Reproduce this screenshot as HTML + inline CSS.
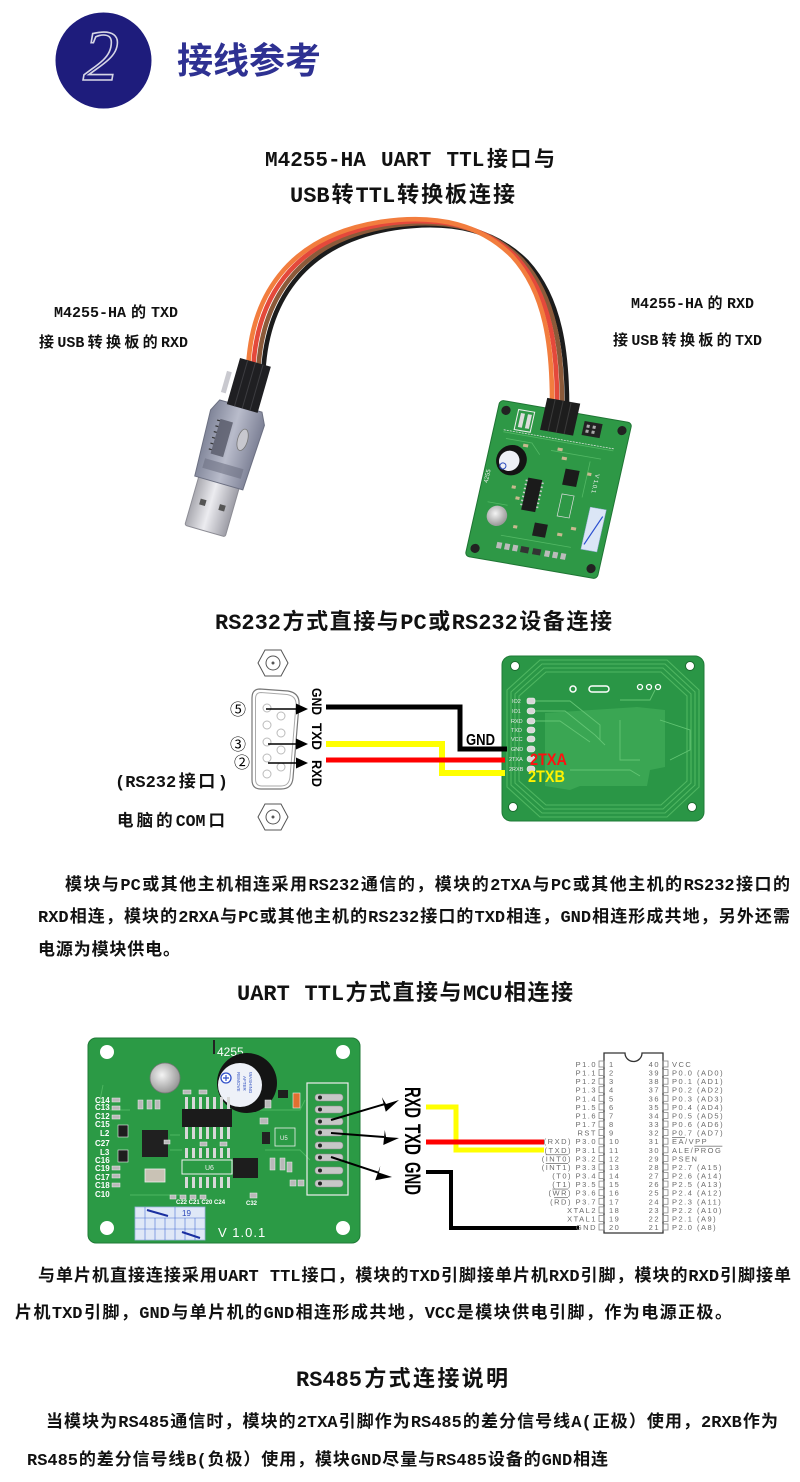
<!DOCTYPE html>
<html>
<head>
<meta charset="utf-8">
<style>
html,body{margin:0;padding:0;background:#fff}
body{width:800px;height:1482px;position:relative;overflow:hidden}
svg{position:absolute;left:0;top:0}
.t{position:absolute;font-family:"Liberation Mono","Noto Sans CJK SC",sans-serif;font-weight:bold;color:#111;text-align:justify;text-align-last:justify;text-justify:inter-character}
.p{font-size:17px;line-height:20px;height:20px}
.h{font-size:22px;line-height:26px;height:26px}
.s{font-size:15px;line-height:20px;height:20px}
.m{font-size:17px;line-height:22px;height:22px}
</style>
</head>
<body>
<svg width="800" height="1482" viewBox="0 0 800 1482" xmlns="http://www.w3.org/2000/svg">
<defs>
  <linearGradient id="metal" x1="0" x2="1" y1="0" y2="0">
    <stop offset="0" stop-color="#a9a9b0"/><stop offset="0.45" stop-color="#ececf0"/><stop offset="1" stop-color="#9d9da6"/>
  </linearGradient>
  <linearGradient id="hous" x1="0" x2="1" y1="0" y2="0">
    <stop offset="0" stop-color="#7f8498"/><stop offset="0.5" stop-color="#b9bccb"/><stop offset="1" stop-color="#7c8095"/>
  </linearGradient>
  <radialGradient id="led" cx="0.4" cy="0.4" r="0.6">
    <stop offset="0" stop-color="#f4f4f4"/><stop offset="1" stop-color="#9a9a9a"/>
  </radialGradient>
</defs>

<!-- ===== Header badge ===== -->
<circle cx="103.5" cy="60.5" r="48" fill="#1e1c7c"/>
<text x="101" y="80" font-family="Liberation Serif" font-style="italic" font-size="72" fill="#1e1c7c" stroke="#d6d6e6" stroke-width="1.6" text-anchor="middle">2</text>

<!-- ===== Section 1: board (tilted) ===== -->
<g transform="matrix(1,0.174,-0.224,1,500,400)">
  <rect x="0" y="0" width="132" height="156" rx="4" fill="#2e9846" stroke="#1f7534" stroke-width="1"/>
  <path d="M10 30 L120 30 M14 36 L40 36 L50 46 M60 40 L110 40 M100 44 L100 80 M30 130 L100 130 M10 100 L30 100" stroke="#53b865" stroke-width="0.8" fill="none"/>
  <circle cx="8" cy="9" r="4.5" fill="#222"/>
  <circle cx="124" cy="9" r="4.5" fill="#222"/>
  <circle cx="8" cy="147" r="4.5" fill="#222"/>
  <circle cx="124" cy="147" r="4.5" fill="#222"/>
  <rect x="20" y="6" width="16" height="20" fill="none" stroke="#eee" stroke-width="1"/>
  <rect x="23" y="9" width="4" height="14" fill="#ddd"/>
  <rect x="30" y="9" width="4" height="14" fill="#ddd"/>
  <rect x="86" y="6" width="18" height="14" fill="#222"/>
  <rect x="89" y="9" width="3" height="3" fill="#aaa"/><rect x="95" y="9" width="3" height="3" fill="#aaa"/>
  <rect x="89" y="14" width="3" height="3" fill="#aaa"/><rect x="95" y="14" width="3" height="3" fill="#aaa"/>
  <line x1="10" y1="28" x2="120" y2="28" stroke="#e8e8e8" stroke-width="0.7" stroke-dasharray="2 1"/>
  <circle cx="24" cy="56" r="15" fill="#141414"/>
  <circle cx="22" cy="57" r="10" fill="#eef0f6"/>
  <circle cx="17" cy="63" r="3" fill="none" stroke="#3050c0" stroke-width="1"/>
  <text x="0" y="0" transform="translate(6,82) rotate(-90)" font-family="Liberation Sans" font-size="6" fill="#eee">4255</text>
  <text x="0" y="0" transform="translate(108,55) rotate(90)" font-family="Liberation Sans" font-size="6" fill="#eee">V 1.0.1</text>
  <rect x="44" y="70" width="14" height="32" fill="#1b1b1b"/>
  <path d="M42 73 h2 M42 77 h2 M42 81 h2 M42 85 h2 M42 89 h2 M42 93 h2 M42 97 h2 M58 73 h2 M58 77 h2 M58 81 h2 M58 85 h2 M58 89 h2 M58 93 h2 M58 97 h2" stroke="#ccc" stroke-width="1.5"/>
  <rect x="78" y="55" width="14" height="16" fill="#1b1b1b"/>
  <rect x="80" y="80" width="12" height="22" fill="none" stroke="#ddd" stroke-width="0.7"/>
  <rect x="60" y="112" width="13" height="13" fill="#1e1e1e"/>
  <circle cx="22" cy="112" r="10" fill="url(#led)"/>
  <rect x="110" y="88" width="16" height="42" fill="#dbe6f6" stroke="#9bb0d8" stroke-width="0.5"/>
  <path d="M112 125 L124 95" stroke="#2a4fd0" stroke-width="1.2"/>
  <g fill="#c9b98f">
    <rect x="32" y="38" width="5" height="3"/><rect x="66" y="36" width="5" height="3"/><rect x="72" y="44" width="5" height="3"/>
    <rect x="100" y="55" width="4" height="3"/><rect x="30" y="80" width="4" height="3"/><rect x="36" y="90" width="4" height="3"/>
    <rect x="96" y="110" width="5" height="3"/><rect x="84" y="118" width="5" height="3"/><rect x="40" y="118" width="4" height="3"/>
  </g>
  <g fill="#bbb">
    <rect x="28" y="137" width="5" height="6"/><rect x="36" y="137" width="5" height="6"/><rect x="44" y="137" width="5" height="6"/>
    <rect x="52" y="137" width="8" height="6" fill="#333"/><rect x="64" y="137" width="8" height="6" fill="#333"/>
    <rect x="76" y="137" width="5" height="6"/><rect x="84" y="137" width="5" height="6"/><rect x="92" y="137" width="5" height="6"/>
  </g>
</g>

<!-- ===== Cable ===== -->
<g fill="none" stroke-width="4.6" stroke-linecap="butt">
  <path transform="translate(15,6)" d="M248 372 C250 300, 285 237, 380 222 C440 213, 482 226, 512 256 C545 292, 553 345, 552 412" stroke="#1c1c1c"/>
  <path transform="translate(10,4)" d="M248 372 C250 300, 285 237, 380 222 C440 213, 482 226, 512 256 C545 292, 553 345, 552 412" stroke="#8b5a3a"/>
  <path transform="translate(5,2)" d="M248 372 C250 300, 285 237, 380 222 C440 213, 482 226, 512 256 C545 292, 553 345, 552 412" stroke="#e4493b"/>
  <path d="M248 372 C250 300, 285 237, 380 222 C440 213, 482 226, 512 256 C545 292, 553 345, 552 412" stroke="#f27d3e"/>
</g>

<!-- header on board -->
<g transform="matrix(1,0.174,-0.224,1,500,400)">
  <rect x="45" y="-10" width="33" height="32" fill="#1d1d1d"/>
  <path d="M53 -10 V22 M61 -10 V22 M69 -10 V22" stroke="#3a3a3a" stroke-width="1"/>
</g>

<!-- ===== USB stick ===== -->
<g transform="translate(205,531) rotate(16)">
  <rect x="-21" y="-54" width="42" height="54" rx="2" fill="url(#metal)" stroke="#8d8d95" stroke-width="1"/>
  <rect x="-13" y="-30" width="6" height="6" fill="#555"/>
  <rect x="7" y="-30" width="6" height="6" fill="#555"/>
  <path d="M-25 -50 L25 -50 L28 -118 L22 -130 L-22 -130 L-28 -118 Z" fill="url(#hous)" stroke="#6c7082" stroke-width="1"/>
  <rect x="-16" y="-112" width="13" height="36" fill="#5a5d6c" opacity="0.85"/>
  <path d="M-19 -110 h3 M-19 -104 h3 M-19 -98 h3 M-19 -92 h3 M-19 -86 h3 M-19 -80 h3" stroke="#333" stroke-width="1.2"/>
  <ellipse cx="11" cy="-98" rx="5" ry="11" fill="#c8c8cf" stroke="#777" stroke-width="0.8"/>
  <rect x="-20" y="-70" width="40" height="10" fill="#6e7183" opacity="0.6"/>
  <rect x="-14" y="-176" width="32" height="48" fill="#1f1f22"/>
  <path d="M-6 -176 V-128 M2 -176 V-128 M10 -176 V-128" stroke="#3c3c40" stroke-width="1"/>
  <rect x="-23" y="-160" width="5" height="22" fill="#c9c9cf"/>
</g>

<!-- ===== Section 2: RS232 ===== -->
<g fill="none" stroke="#555" stroke-width="1">
  <polygon points="258,663 265,650 281,650 288,663 281,676 265,676"/>
  <circle cx="273" cy="663" r="7"/>
  <circle cx="273" cy="663" r="1" fill="#555"/>
  <polygon points="258,817 265,804 281,804 288,817 281,830 265,830"/>
  <circle cx="273" cy="817" r="7"/>
  <circle cx="273" cy="817" r="1" fill="#555"/>
</g>
<path d="M260 689 L288 691 Q300 693 299 705 L293 778 Q292 789 281 789 L261 789 Q252 789 252 780 L252 698 Q252 689 260 689 Z" fill="#fff" stroke="#777" stroke-width="1.2"/>
<path d="M261 692.5 L287 694.5 Q296.5 696 296 705 L290 777 Q289 786 281 786 L262 786 Q255.5 786 255.5 779 L255.5 699 Q255.5 692.5 261 692.5 Z" fill="none" stroke="#aaa" stroke-width="1"/>
<g fill="none" stroke="#bbb" stroke-width="1">
  <circle cx="267" cy="708" r="4"/><circle cx="267" cy="725" r="4"/><circle cx="267" cy="742" r="4"/><circle cx="267" cy="758" r="4"/><circle cx="267" cy="774" r="4"/>
  <circle cx="281" cy="716" r="4"/><circle cx="281" cy="733" r="4"/><circle cx="281" cy="750" r="4"/><circle cx="281" cy="767" r="4"/>
</g>
<g stroke="#000" stroke-width="1.6">
  <line x1="266" y1="709" x2="298" y2="709"/>
  <line x1="268" y1="744" x2="298" y2="744"/>
  <line x1="268" y1="763" x2="298" y2="763"/>
</g>
<g fill="#000">
  <polygon points="296,703.5 308,709 296,714.5"/>
  <polygon points="296,738.5 308,744 296,749.5"/>
  <polygon points="296,757.5 308,763 296,768.5"/>
</g>
<g font-family="'Noto Sans CJK SC',sans-serif" font-size="16" fill="#000" text-anchor="middle">
  <text x="238" y="715">⑤</text>
  <text x="238" y="750">③</text>
  <text x="242" y="768">②</text>
</g>
<g font-family="Liberation Sans" font-weight="bold" font-size="14" fill="#000">
  <text transform="translate(312,688) rotate(90)" textLength="27" lengthAdjust="spacingAndGlyphs">GND</text>
  <text transform="translate(312,723) rotate(90)" textLength="27" lengthAdjust="spacingAndGlyphs">TXD</text>
  <text transform="translate(312,760) rotate(90)" textLength="27" lengthAdjust="spacingAndGlyphs">RXD</text>
</g>

<!-- RS232 board -->
<rect x="502" y="656" width="202" height="165" rx="9" fill="#2a9646" stroke="#1f7b37" stroke-width="1"/>
<g fill="none" stroke="#4fb661" stroke-width="1.1">
  <path d="M540 660 L667 660 L699 690 L699 787 L667 817 L540 817 L507 787 L507 690 Z"/>
  <path d="M542 664 L665 664 L695 692 L695 785 L665 813 L542 813 L511 785 L511 692 Z"/>
  <path d="M544 668 L663 668 L691 694 L691 783 L663 809 L544 809 L515 783 L515 694 Z"/>
  <path d="M546 672 L661 672 L687 696 L687 781 L661 805 L546 805 L519 781 L519 696 Z"/>
</g>
<g fill="#fff" stroke="#1a6a2e" stroke-width="1">
  <circle cx="515" cy="666" r="4.5"/><circle cx="690" cy="666" r="4.5"/>
  <circle cx="513" cy="807" r="4.5"/><circle cx="692" cy="807" r="4.5"/>
</g>
<path d="M545 713 L637 707 L665 710 L665 767 L650 770 L647 786 L580 786 L570 790 L545 786 Z" fill="#3aa653"/>
<g fill="none" stroke="#62c473" stroke-width="0.9">
  <path d="M535 701 L570 701 L600 725 L600 740"/>
  <path d="M535 711 L565 711 L595 735 L605 745"/>
  <path d="M535 721 L560 721 L590 742"/>
  <path d="M620 720 L620 760 L640 760"/>
  <path d="M660 720 L690 730 L690 750 L670 760"/>
  <path d="M620 700 L650 700 L655 690"/>
  <path d="M570 770 L630 770 L640 776"/>
</g>
<g fill="#fff">
  <circle cx="573" cy="689" r="3" fill="none" stroke="#fff" stroke-width="1.5"/>
  <rect x="589" y="686" width="20" height="6" rx="3" fill="none" stroke="#fff" stroke-width="1.5"/>
  <circle cx="640" cy="687" r="2.5" fill="none" stroke="#fff" stroke-width="1.3"/>
  <circle cx="649" cy="687" r="2.5" fill="none" stroke="#fff" stroke-width="1.3"/>
  <circle cx="658" cy="687" r="2.5" fill="none" stroke="#fff" stroke-width="1.3"/>
</g>
<g fill="#d8d8d8" stroke="#eee" stroke-width="0.6">
  <rect x="527" y="698" width="8" height="6" rx="2"/>
  <rect x="527" y="708" width="8" height="6" rx="3"/>
  <rect x="527" y="718" width="8" height="6" rx="3"/>
  <rect x="527" y="727" width="8" height="6" rx="3"/>
  <rect x="527" y="736" width="8" height="6" rx="3"/>
  <rect x="527" y="746" width="8" height="6" rx="3"/>
  <rect x="527" y="756" width="8" height="6" rx="3"/>
  <rect x="527" y="766" width="8" height="6" rx="3"/>
</g>
<g font-family="Liberation Sans" font-size="5.5" fill="#e8e8e8">
  <text x="512" y="703">IO2</text>
  <text x="512" y="713">IO1</text>
  <text x="511" y="723">RXD</text>
  <text x="511" y="732">TXD</text>
  <text x="511" y="741">VCC</text>
  <text x="511" y="751">GND</text>
  <text x="509" y="761">2TXA</text>
  <text x="509" y="771">2RXB</text>
</g>
<polyline points="326,707 460,707 460,749 507,749" fill="none" stroke="#000" stroke-width="5"/>
<polyline points="326,744 442,744 442,773 505,773" fill="none" stroke="#ffff00" stroke-width="6"/>
<polyline points="326,760 505,760" fill="none" stroke="#ff0000" stroke-width="5"/>
<text x="466" y="745" font-family="Liberation Sans" font-weight="bold" font-size="16" fill="#000" textLength="29" lengthAdjust="spacingAndGlyphs">GND</text>
<text x="530" y="765" font-family="Liberation Sans" font-weight="bold" font-size="17" fill="#ff1010" textLength="37" lengthAdjust="spacingAndGlyphs">2TXA</text>
<text x="528" y="782" font-family="Liberation Sans" font-weight="bold" font-size="17" fill="#fff200" textLength="37" lengthAdjust="spacingAndGlyphs">2TXB</text>

<!-- ===== Section 3: UART board ===== -->
<rect x="88" y="1038" width="272" height="205" rx="8" fill="#2b9a45" stroke="#1f7a36" stroke-width="1"/>
<g fill="none" stroke="#4eb761" stroke-width="0.9">
  <path d="M103 1085 L100 1100 L110 1110 L130 1110"/>
  <path d="M170 1135 L180 1135 M170 1150 L182 1150 M260 1110 L300 1110 L305 1100"/>
  <path d="M265 1150 L300 1150 L310 1160 M130 1195 L180 1195"/>
</g>
<g fill="#fff">
  <circle cx="107" cy="1052" r="7"/><circle cx="343" cy="1052" r="7"/>
  <circle cx="107" cy="1228" r="7"/><circle cx="343" cy="1228" r="7"/>
</g>
<rect x="213" y="1040" width="2" height="14" fill="#222"/>
<text x="217" y="1056" font-family="Liberation Sans" font-size="12" fill="#fff">4255</text>
<circle cx="165" cy="1078" r="15" fill="url(#led)" stroke="#777" stroke-width="0.8"/>
<circle cx="247" cy="1083" r="30" fill="#141414"/>
<circle cx="240" cy="1085" r="22" fill="#eef1f8"/>
<circle cx="226" cy="1078" r="5" fill="#fff" stroke="#2f4fc8" stroke-width="1.3"/>
<path d="M223 1078 h6 M226 1075 v6" stroke="#2f4fc8" stroke-width="1.2"/>
<g font-family="Liberation Sans" font-size="4.5" fill="#3050c0">
  <text transform="translate(237,1072) rotate(90)">REMOVE</text>
  <text transform="translate(243,1076) rotate(90)">AFTER</text>
  <text transform="translate(249,1072) rotate(90)">WASHING</text>
</g>
<g fill="#d8d8d8">
  <rect x="185" y="1097" width="3" height="12"/><rect x="192" y="1097" width="3" height="12"/><rect x="199" y="1097" width="3" height="12"/><rect x="206" y="1097" width="3" height="12"/><rect x="213" y="1097" width="3" height="12"/><rect x="220" y="1097" width="3" height="12"/><rect x="227" y="1097" width="3" height="12"/>
  <rect x="185" y="1127" width="3" height="12"/><rect x="192" y="1127" width="3" height="12"/><rect x="199" y="1127" width="3" height="12"/><rect x="206" y="1127" width="3" height="12"/><rect x="213" y="1127" width="3" height="12"/><rect x="220" y="1127" width="3" height="12"/><rect x="227" y="1127" width="3" height="12"/>
  <rect x="185" y="1148" width="3" height="10"/><rect x="192" y="1148" width="3" height="10"/><rect x="199" y="1148" width="3" height="10"/><rect x="206" y="1148" width="3" height="10"/><rect x="213" y="1148" width="3" height="10"/><rect x="220" y="1148" width="3" height="10"/><rect x="227" y="1148" width="3" height="10"/>
  <rect x="185" y="1177" width="3" height="11"/><rect x="192" y="1177" width="3" height="11"/><rect x="199" y="1177" width="3" height="11"/><rect x="206" y="1177" width="3" height="11"/><rect x="213" y="1177" width="3" height="11"/><rect x="220" y="1177" width="3" height="11"/><rect x="227" y="1177" width="3" height="11"/>
</g>
<rect x="182" y="1109" width="50" height="18" fill="#1b1b1b"/>
<rect x="182" y="1160" width="50" height="14" fill="none" stroke="#eee" stroke-width="1"/>
<text x="205" y="1170" font-family="Liberation Sans" font-size="7" fill="#eee">U6</text>
<rect x="233" y="1158" width="25" height="20" fill="#1d1d1d"/>
<rect x="142" y="1130" width="26" height="27" fill="#202020"/>
<rect x="145" y="1169" width="20" height="13" fill="#c9c2b5" stroke="#eee" stroke-width="0.8"/>
<rect x="118" y="1125" width="10" height="12" fill="#1e1e1e" stroke="#eee" stroke-width="0.6"/>
<rect x="118" y="1150" width="10" height="12" fill="#1e1e1e" stroke="#eee" stroke-width="0.6"/>
<rect x="262" y="1132" width="8" height="12" fill="#222"/>
<rect x="293" y="1093" width="7" height="15" fill="#e07030" stroke="#eee" stroke-width="0.6"/>
<rect x="278" y="1090" width="10" height="8" fill="#1e1e1e"/>
<rect x="275" y="1128" width="20" height="18" fill="none" stroke="#eee" stroke-width="0.8"/>
<text x="280" y="1140" font-family="Liberation Sans" font-size="6" fill="#eee">U5</text>
<g fill="#b9b9b9" stroke="#eee" stroke-width="0.5">
  <rect x="112" y="1098" width="8" height="4"/><rect x="112" y="1106" width="8" height="4"/><rect x="112" y="1115" width="8" height="4"/>
  <rect x="112" y="1166" width="8" height="4"/><rect x="112" y="1174" width="8" height="4"/><rect x="112" y="1183" width="8" height="4"/>
  <rect x="138" y="1100" width="5" height="9"/><rect x="147" y="1100" width="5" height="9"/><rect x="155" y="1100" width="5" height="9"/>
  <rect x="183" y="1090" width="8" height="4"/><rect x="199" y="1090" width="8" height="4"/>
  <rect x="164" y="1140" width="6" height="4"/><rect x="200" y="1142" width="7" height="4"/><rect x="220" y="1142" width="7" height="4"/>
  <rect x="170" y="1195" width="6" height="4"/><rect x="180" y="1195" width="6" height="4"/><rect x="190" y="1195" width="6" height="4"/><rect x="200" y="1195" width="6" height="4"/>
  <rect x="250" y="1193" width="7" height="5"/><rect x="265" y="1100" width="6" height="8"/><rect x="260" y="1118" width="8" height="6"/>
  <rect x="270" y="1158" width="5" height="12"/><rect x="280" y="1158" width="5" height="12"/><rect x="287" y="1162" width="5" height="10"/>
  <rect x="290" y="1180" width="6" height="6"/><rect x="298" y="1180" width="6" height="6"/>
</g>
<g font-family="Liberation Sans" font-weight="bold" font-size="8" fill="#fff">
  <text x="95" y="1103">C14</text><text x="95" y="1110">C13</text><text x="95" y="1119">C12</text><text x="95" y="1127">C15</text>
  <text x="100" y="1136">L2</text><text x="95" y="1146">C27</text><text x="100" y="1155">L3</text><text x="95" y="1163">C16</text>
  <text x="95" y="1171">C19</text><text x="95" y="1180">C17</text><text x="95" y="1188">C18</text><text x="95" y="1197">C10</text>
  <text x="176" y="1204" font-size="6">C22 C21 C20 C24</text>
  <text x="246" y="1205" font-size="6">C32</text>
</g>
<rect x="307" y="1083" width="41" height="112" fill="none" stroke="#eee" stroke-width="1.2"/>
<g fill="#c7c7c7" stroke="#888" stroke-width="0.5">
  <rect x="315" y="1094" width="28" height="7" rx="3"/>
  <rect x="315" y="1106" width="28" height="7" rx="3"/>
  <rect x="315" y="1118" width="28" height="7" rx="3"/>
  <rect x="315" y="1129" width="28" height="7" rx="3"/>
  <rect x="315" y="1142" width="28" height="7" rx="3"/>
  <rect x="315" y="1154" width="28" height="7" rx="3"/>
  <rect x="315" y="1167" width="28" height="7" rx="3"/>
  <rect x="315" y="1180" width="28" height="7" rx="3"/>
</g>
<g fill="#222">
  <circle cx="320" cy="1097.5" r="2"/><circle cx="320" cy="1109.5" r="2"/><circle cx="320" cy="1121.5" r="2"/><circle cx="320" cy="1132.5" r="2"/>
  <circle cx="320" cy="1145.5" r="2"/><circle cx="320" cy="1157.5" r="2"/><circle cx="320" cy="1170.5" r="2"/><circle cx="320" cy="1183.5" r="2"/>
</g>
<rect x="135" y="1207" width="70" height="33" fill="#dfe8f7" stroke="#9db3e0" stroke-width="0.8"/>
<g stroke="#4a6fd6" stroke-width="0.6" fill="none">
  <line x1="135" y1="1218" x2="205" y2="1218"/><line x1="135" y1="1229" x2="205" y2="1229"/>
  <line x1="145" y1="1207" x2="145" y2="1240"/><line x1="155" y1="1218" x2="155" y2="1240"/><line x1="165" y1="1218" x2="165" y2="1240"/>
  <line x1="175" y1="1207" x2="175" y2="1240"/><line x1="185" y1="1218" x2="185" y2="1240"/><line x1="195" y1="1218" x2="195" y2="1240"/>
</g>
<path d="M147 1210 L168 1216 M182 1232 L200 1238" stroke="#1a2fa0" stroke-width="2"/>
<text x="182" y="1216" font-family="Liberation Sans" font-size="8" fill="#2a45b8">19</text>
<text x="218" y="1237" font-family="Liberation Sans" font-size="13" fill="#fff" letter-spacing="1">V 1.0.1</text>

<g stroke="#000" stroke-width="2">
  <line x1="331" y1="1120" x2="385" y2="1104"/>
  <line x1="331" y1="1133" x2="384" y2="1137"/>
  <line x1="331" y1="1157" x2="378" y2="1172.6"/>
</g>
<g fill="#000">
  <polygon points="399,1100 385.8,1111.7 381.9,1097.3 386,1104"/>
  <polygon points="399,1138 383.3,1145 384.8,1130 386,1137"/>
  <polygon points="392,1177 375.2,1180.3 380.3,1165.9 379,1172.6"/>
</g>
<g font-family="Liberation Sans" font-weight="bold" font-size="22" fill="#000">
  <text transform="translate(405,1087) rotate(90)" textLength="31" lengthAdjust="spacingAndGlyphs">RXD</text>
  <text transform="translate(405,1124) rotate(90)" textLength="31" lengthAdjust="spacingAndGlyphs">TXD</text>
  <text transform="translate(405,1162) rotate(90)" textLength="33" lengthAdjust="spacingAndGlyphs">GND</text>
</g>
<polyline points="426,1107 456,1107 456,1150 544,1150" fill="none" stroke="#ffff00" stroke-width="5"/>
<polyline points="426,1142 544,1142" fill="none" stroke="#ff0000" stroke-width="5"/>
<polyline points="426,1172 451,1172 451,1228 579,1228" fill="none" stroke="#000" stroke-width="4"/>

<!-- 8051 pinout -->
<path d="M604 1053 L625 1053 A8.5 8.5 0 0 0 642 1053 L663 1053 L663 1233 L604 1233 Z" fill="none" stroke="#333" stroke-width="1.3"/>
<g fill="none" stroke="#888" stroke-width="0.8">
  <rect x="599" y="1061" width="5" height="6"/><rect x="599" y="1069.6" width="5" height="6"/><rect x="599" y="1078.2" width="5" height="6"/><rect x="599" y="1086.7" width="5" height="6"/><rect x="599" y="1095.3" width="5" height="6"/>
  <rect x="599" y="1103.9" width="5" height="6"/><rect x="599" y="1112.5" width="5" height="6"/><rect x="599" y="1121.1" width="5" height="6"/><rect x="599" y="1129.6" width="5" height="6"/><rect x="599" y="1138.2" width="5" height="6"/>
  <rect x="599" y="1146.8" width="5" height="6"/><rect x="599" y="1155.4" width="5" height="6"/><rect x="599" y="1164" width="5" height="6"/><rect x="599" y="1172.5" width="5" height="6"/><rect x="599" y="1181.1" width="5" height="6"/>
  <rect x="599" y="1189.7" width="5" height="6"/><rect x="599" y="1198.3" width="5" height="6"/><rect x="599" y="1206.9" width="5" height="6"/><rect x="599" y="1215.4" width="5" height="6"/><rect x="599" y="1224" width="5" height="6"/>
  <rect x="663" y="1061" width="5" height="6"/><rect x="663" y="1069.6" width="5" height="6"/><rect x="663" y="1078.2" width="5" height="6"/><rect x="663" y="1086.7" width="5" height="6"/><rect x="663" y="1095.3" width="5" height="6"/>
  <rect x="663" y="1103.9" width="5" height="6"/><rect x="663" y="1112.5" width="5" height="6"/><rect x="663" y="1121.1" width="5" height="6"/><rect x="663" y="1129.6" width="5" height="6"/><rect x="663" y="1138.2" width="5" height="6"/>
  <rect x="663" y="1146.8" width="5" height="6"/><rect x="663" y="1155.4" width="5" height="6"/><rect x="663" y="1164" width="5" height="6"/><rect x="663" y="1172.5" width="5" height="6"/><rect x="663" y="1181.1" width="5" height="6"/>
  <rect x="663" y="1189.7" width="5" height="6"/><rect x="663" y="1198.3" width="5" height="6"/><rect x="663" y="1206.9" width="5" height="6"/><rect x="663" y="1215.4" width="5" height="6"/><rect x="663" y="1224" width="5" height="6"/>
</g>
<g font-family="Liberation Sans" font-size="7.5" fill="#6a6a6a" letter-spacing="1.5">
  <g text-anchor="end">
    <text x="597" y="1067">P1.0</text><text x="597" y="1075.6">P1.1</text><text x="597" y="1084.2">P1.2</text><text x="597" y="1092.7">P1.3</text><text x="597" y="1101.3">P1.4</text>
    <text x="597" y="1109.9">P1.5</text><text x="597" y="1118.5">P1.6</text><text x="597" y="1127.1">P1.7</text><text x="597" y="1135.6">RST</text><text x="597" y="1144.2">(RXD) P3.0</text>
    <text x="597" y="1152.8">(TXD) P3.1</text><text x="597" y="1161.4">(<tspan text-decoration="overline">INT0</tspan>) P3.2</text><text x="597" y="1170">(<tspan text-decoration="overline">INT1</tspan>) P3.3</text><text x="597" y="1178.5">(T0) P3.4</text><text x="597" y="1187.1">(T1) P3.5</text>
    <text x="597" y="1195.7">(<tspan text-decoration="overline">WR</tspan>) P3.6</text><text x="597" y="1204.3">(<tspan text-decoration="overline">RD</tspan>) P3.7</text><text x="597" y="1212.9">XTAL2</text><text x="597" y="1221.4">XTAL1</text><text x="597" y="1230">GND</text>
  </g>
  <g>
    <text x="609" y="1067">1</text><text x="609" y="1075.6">2</text><text x="609" y="1084.2">3</text><text x="609" y="1092.7">4</text><text x="609" y="1101.3">5</text>
    <text x="609" y="1109.9">6</text><text x="609" y="1118.5">7</text><text x="609" y="1127.1">8</text><text x="609" y="1135.6">9</text><text x="609" y="1144.2">10</text>
    <text x="609" y="1152.8">11</text><text x="609" y="1161.4">12</text><text x="609" y="1170">13</text><text x="609" y="1178.5">14</text><text x="609" y="1187.1">15</text>
    <text x="609" y="1195.7">16</text><text x="609" y="1204.3">17</text><text x="609" y="1212.9">18</text><text x="609" y="1221.4">19</text><text x="609" y="1230">20</text>
  </g>
  <g text-anchor="end">
    <text x="660" y="1067">40</text><text x="660" y="1075.6">39</text><text x="660" y="1084.2">38</text><text x="660" y="1092.7">37</text><text x="660" y="1101.3">36</text>
    <text x="660" y="1109.9">35</text><text x="660" y="1118.5">34</text><text x="660" y="1127.1">33</text><text x="660" y="1135.6">32</text><text x="660" y="1144.2">31</text>
    <text x="660" y="1152.8">30</text><text x="660" y="1161.4">29</text><text x="660" y="1170">28</text><text x="660" y="1178.5">27</text><text x="660" y="1187.1">26</text>
    <text x="660" y="1195.7">25</text><text x="660" y="1204.3">24</text><text x="660" y="1212.9">23</text><text x="660" y="1221.4">22</text><text x="660" y="1230">21</text>
  </g>
  <g>
    <text x="672" y="1067">VCC</text><text x="672" y="1075.6">P0.0 (AD0)</text><text x="672" y="1084.2">P0.1 (AD1)</text><text x="672" y="1092.7">P0.2 (AD2)</text><text x="672" y="1101.3">P0.3 (AD3)</text>
    <text x="672" y="1109.9">P0.4 (AD4)</text><text x="672" y="1118.5">P0.5 (AD5)</text><text x="672" y="1127.1">P0.6 (AD6)</text><text x="672" y="1135.6">P0.7 (AD7)</text><text x="672" y="1144.2"><tspan text-decoration="overline">EA</tspan>/VPP</text>
    <text x="672" y="1152.8">ALE/<tspan text-decoration="overline">PROG</tspan></text><text x="672" y="1161.4">PSEN</text><text x="672" y="1170">P2.7 (A15)</text><text x="672" y="1178.5">P2.6 (A14)</text><text x="672" y="1187.1">P2.5 (A13)</text>
    <text x="672" y="1195.7">P2.4 (A12)</text><text x="672" y="1204.3">P2.3 (A11)</text><text x="672" y="1212.9">P2.2 (A10)</text><text x="672" y="1221.4">P2.1 (A9)</text><text x="672" y="1230">P2.0 (A8)</text>
  </g>
</g>
</svg>

<!-- ===== Text ===== -->
<div style="position:absolute;left:177px;top:37px;font-family:'Noto Sans CJK SC',sans-serif;font-weight:bold;font-size:36px;line-height:42px;color:#2e3192;white-space:nowrap">接线参考</div>

<div class="t h" style="left:265px;top:149px;width:290px;font-size:21px">M4255-HA UART TTL接口与</div>
<div class="t h" style="left:290px;top:184px;width:225px">USB转TTL转换板连接</div>

<div class="t s" style="left:54px;top:304px;width:124px">M4255-HA的TXD</div>
<div class="t s" style="left:39px;top:334px;width:149px">接USB转换板的RXD</div>
<div class="t s" style="left:631px;top:295px;width:123px">M4255-HA的RXD</div>
<div class="t s" style="left:613px;top:332px;width:149px">接USB转换板的TXD</div>

<div class="t h" style="left:215px;top:611px;width:397px">RS232方式直接与PC或RS232设备连接</div>

<div class="t m" style="left:115px;top:773px;width:113px">(RS232接口)</div>
<div class="t m" style="left:117px;top:811px;width:108px;font-size:16.5px">电脑的COM口</div>

<div class="t p" style="left:65px;top:877px;width:725px">模块与PC或其他主机相连采用RS232通信的，模块的2TXA与PC或其他主机的RS232接口的</div>
<div class="t p" style="left:38px;top:909px;width:752px">RXD相连，模块的2RXA与PC或其他主机的RS232接口的TXD相连，GND相连形成共地，另外还需</div>
<div class="t p" style="left:38px;top:942px;width:142px">电源为模块供电。</div>

<div class="t h" style="left:237px;top:982px;width:336px">UART TTL方式直接与MCU相连接</div>

<div class="t p" style="left:38px;top:1268px;width:753px">与单片机直接连接采用UART TTL接口，模块的TXD引脚接单片机RXD引脚，模块的RXD引脚接单</div>
<div class="t p" style="left:15px;top:1305px;width:717px">片机TXD引脚，GND与单片机的GND相连形成共地，VCC是模块供电引脚，作为电源正极。</div>

<div class="t h" style="left:296px;top:1368px;width:212px">RS485方式连接说明</div>

<div class="t p" style="left:46px;top:1414px;width:732px">当模块为RS485通信时，模块的2TXA引脚作为RS485的差分信号线A(正极）使用，2RXB作为</div>
<div class="t p" style="left:27px;top:1452px;width:581px">RS485的差分信号线B(负极）使用，模块GND尽量与RS485设备的GND相连</div>
</body>
</html>
